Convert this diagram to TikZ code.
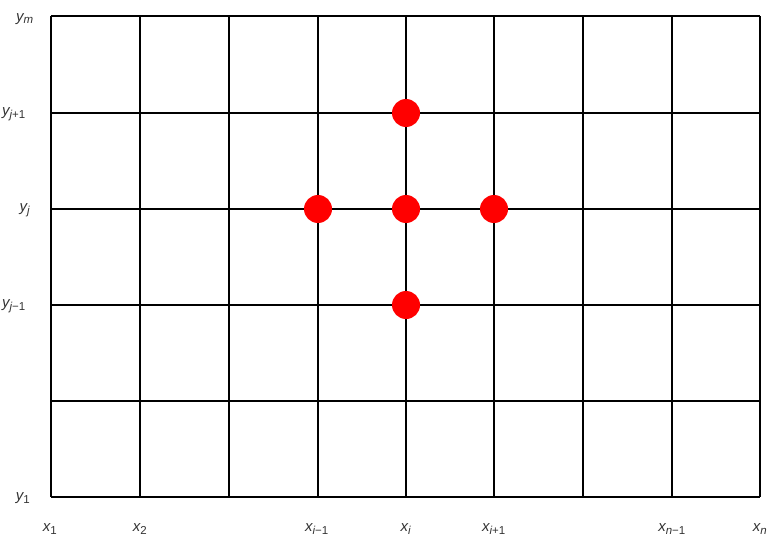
\documentclass[tikz,border=0pt]{standalone}
\usepackage{fontspec}
\setmainfont{Liberation Sans}
\newcommand{\lab}[2]{{\fontsize{15}{17}\selectfont\itshape #1\textsubscript{\fontsize{11.5}{13}\selectfont #2}}}
\newcommand{\up}[1]{\upshape #1}
\begin{document}
\begin{tikzpicture}[x=1pt,y=-1pt,
  gridline/.style={line width=2pt, black},
  dot/.style={circle, fill=red, draw=none, minimum size=28pt, inner sep=0pt},
  lbl/.style={text=black!80, inner sep=0pt}]
\useasboundingbox (0,0) rectangle (777,543);
\foreach \xx in {51,140,229,318,406,494,583,672,760} {
  \draw[gridline] (\xx,16) -- (\xx,497);
}
\foreach \yy in {16,113,209,305,401,497} {
  \draw[gridline] (51,\yy) -- (760,\yy);
}
% dots
\node[dot] (top) at (406,113) {};
\node[dot] (left) at (318,209) {};
\node[dot] (centre) at (406,209) {};
\node[dot] (right) at (494,209) {};
\node[dot] (bottom) at (406,305) {};
% y labels
\node[lbl] (ym) at (25,19) {\lab{y}{m}};
\node[lbl] (yjp) at (14,114) {\lab{y}{j\up{+1}}};
\node[lbl] (yj) at (25,210) {\lab{y}{j}};
\node[lbl] (yjm) at (14,306) {\lab{y}{j\up{−1}}};
\node[lbl] (y1) at (23,498) {\lab{y}{\up{1}}};
% x labels
\node[lbl] (x1) at (50,529) {\lab{x}{\up{1}}};
\node[lbl] (x2) at (140,529) {\lab{x}{\up{2}}};
\node[lbl] (xim) at (317,529) {\lab{x}{i\up{−1}}};
\node[lbl] (xi) at (406,529) {\lab{x}{i}};
\node[lbl] (xip) at (494,529) {\lab{x}{i\up{+1}}};
\node[lbl] (xnm) at (672,529) {\lab{x}{n\up{−1}}};
\node[lbl] (xn) at (760,529) {\lab{x}{n}};
\end{tikzpicture}
\end{document}
